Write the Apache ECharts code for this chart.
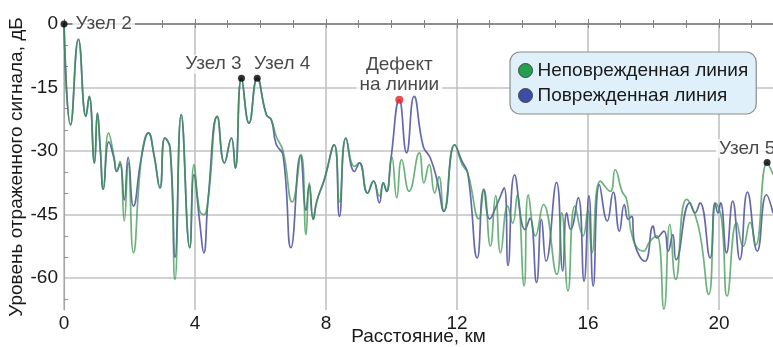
<!DOCTYPE html>
<html><head><meta charset="utf-8">
<script src="https://cdn.jsdelivr.net/npm/echarts@6/dist/echarts.min.js"></script>
<style>html,body{margin:0;padding:0;background:#fff}#c{width:773px;height:347px}</style>
</head><body><div id="c"></div>
<script>
// ---- data (distance km, level dB) ----
const seriesNames = ['Неповрежденная линия', 'Поврежденная линия'];
const undamaged = [
 [0,0],[0.2,-23.8],[0.44,-3.6],[0.67,-21.8],[0.77,-17.1],[0.93,-32.8],[1.02,-21],[1.11,-29.8],[1.2,-39],
 [1.36,-25.7],[1.52,-31],[1.61,-34.8],[1.71,-32.4],[1.84,-46.5],[1.96,-32.8],[2.12,-54],[2.37,-31.2],
 [2.58,-25.7],[2.75,-31],[2.93,-38.7],[3.08,-26.9],[3.24,-29.3],[3.39,-60.3],[3.58,-21.4],[3.84,-52.8],
 [3.97,-33.2],[4.14,-44],[4.27,-45],[4.4,-41.4],[4.68,-21.8],[4.9,-32.8],[5.11,-26.9],[5.23,-34],
 [5.42,-12.8],[5.65,-23.4],[5.9,-12.8],[6.18,-21.4],[6.33,-22.6],[6.48,-26.5],[6.69,-30],[6.97,-42],
 [7.24,-30.8],[7.39,-49.7],[7.49,-37.5],[7.61,-46.1],[7.72,-41.8],[7.95,-36.7],[8.25,-28.5],[8.41,-42],
 [8.61,-26.9],[8.87,-33.6],[9.02,-32.8],[9.27,-39.9],[9.45,-37.1],[9.63,-40.6],[9.75,-37.5],[9.85,-39.5],
 [10.01,-31.4],[10.16,-41],[10.31,-32],[10.54,-39.5],[10.85,-30.4],[10.99,-37.5],[11.15,-33.2],[11.32,-39.9],
 [11.45,-36],[11.6,-44.2],[11.93,-28.5],[12.16,-33.2],[12.33,-35.2],[12.67,-46],[12.82,-39],[13.02,-52.4],
 [13.18,-40.5],[13.33,-54],[13.55,-43],[13.7,-47],[13.84,-40.3],[14.05,-61.8],[14.18,-40.3],[14.4,-50],
 [14.64,-42.6],[15.05,-59.1],[15.2,-44.6],[15.39,-63],[15.6,-43],[15.85,-50],[16.0,-44],[16.12,-54],
 [16.38,-37.1],[16.68,-39.5],[16.83,-34.4],[17.04,-39.5],[17.18,-41.4],[17.38,-50.9],[17.69,-53.6],
 [17.89,-51.3],[18.1,-50],[18.32,-67.3],[18.5,-47.3],[18.68,-60.3],[19.01,-41.4],[19.37,-47.7],[19.69,-63.8],
 [19.91,-42.4],[20.08,-46],[20.25,-64.2],[20.54,-46.8],[20.74,-52.5],[20.95,-46.8],[21.12,-52.2],
 [21.47,-32.7],[21.65,-35.5]
];
const damaged = [
 [0,0],[0.2,-23.8],[0.44,-3.6],[0.67,-21.8],[0.77,-17.1],[0.93,-32.8],[1.02,-21],[1.11,-29.8],[1.2,-39],
 [1.37,-27.8],[1.52,-31.5],[1.61,-34.8],[1.71,-33],[1.84,-41.5],[1.96,-31.5],[2.12,-43],[2.37,-31.2],
 [2.58,-25.7],[2.75,-31],[2.93,-38.7],[3.08,-26.9],[3.24,-29.3],[3.39,-55],[3.58,-21.4],[3.84,-52.8],
 [3.97,-35.6],[4.14,-46.5],[4.27,-54],[4.4,-41.4],[4.68,-21.8],[4.9,-32.8],[5.11,-26.9],[5.23,-34],
 [5.42,-12.8],[5.65,-23.4],[5.9,-12.8],[6.18,-21.4],[6.33,-22.6],[6.48,-28.4],[6.69,-31],[6.93,-52.8],
 [7.22,-31],[7.39,-44],[7.49,-38],[7.61,-46.1],[7.72,-41.8],[7.95,-36.7],[8.25,-28.5],[8.41,-45.4],
 [8.61,-26.9],[8.87,-34.8],[9.02,-32.8],[9.27,-39.9],[9.45,-37.1],[9.63,-42.2],[9.75,-37.5],[9.85,-39.5],
 [9.98,-32],[10.24,-17.9],[10.46,-30.4],[10.69,-17.1],[10.97,-28.9],[11.18,-31.5],[11.4,-37.1],[11.6,-44.2],
 [11.93,-28.5],[12.16,-32.5],[12.33,-35.2],[12.62,-55.2],[12.82,-39],[13.0,-46],[13.2,-43],[13.44,-38.7],
 [13.56,-57],[13.76,-35.6],[14.08,-48.5],[14.23,-45.8],[14.43,-61],[14.58,-46.1],[14.72,-56],[15.04,-37.4],
 [15.23,-58.3],[15.35,-44.6],[15.47,-48.5],[15.7,-41],[15.88,-60.7],[16.03,-40.5],[16.16,-61.9],[16.35,-37.9],
 [16.59,-46.5],[16.77,-39.7],[16.96,-48.9],[17.11,-42.6],[17.23,-46.1],[17.33,-45.4],[17.43,-52],[17.74,-56],
 [17.99,-47.7],[18.1,-50.5],[18.32,-48.9],[18.45,-53.6],[18.59,-49.7],[18.69,-55.6],[19.11,-42.2],[19.27,-44.6],
 [19.42,-42.2],[19.73,-55.2],[19.88,-42.2],[19.97,-44.6],[20.05,-42.2],[20.23,-54],[20.42,-41.8],[20.64,-55.6],
 [20.87,-39.7],[21.17,-53.6],[21.45,-40.3],[21.65,-44.6]
];
const nodeNames = ['Узел 2', 'Узел 3', 'Узел 4', 'Узел 5'];
const nodeX = [0, 5.42, 5.9, 21.47];
const nodeY = [0, -12.8, -12.8, -32.7];
const defectName = 'Дефект\nна линии';
const defectX = 10.24;
const defectY = -17.9;
const xTicks = [0, 4, 8, 12, 16, 20];
const xMinorTicks = [1, 2, 3, 5, 6, 7, 9, 10, 11, 13, 14, 15, 17, 18, 19, 21];
const yTicks = [-60, -45, -30, -15, 0];
const yMinorTicks = [-65, -55, -50, -40, -35, -25, -20, -10, -5];
const xName = 'Расстояние, км';
const yName = 'Уровень отраженного сигнала, дБ';
const X_MIN = 0, X_MAX = 21.65, Y_MIN = -67.5, Y_MAX = 0;

// ---- styling ----
const FONT = 'Liberation Sans, Arial, sans-serif';
const FS = 19;
const GREEN = '#3c9752', BLUE = '#4a4f9e';
const gridGray = '#c2c2c2';

const nodeLabelStyles = [
  {position: 'right', distance: 5},
  {position: 'top', distance: 1, offset: [-28, 0]},
  {position: 'top', distance: 1, offset: [25, 0]},
  {position: 'top', distance: 1, offset: [-20, 0]}
];
const labelBase = {show: true, color: '#1a1a1a', fontSize: FS, fontFamily: FONT,
  backgroundColor: '#fff', padding: [0, 3]};

const nodeData = nodeNames.map((n, i) => ({
  value: [nodeX[i], nodeY[i]], name: n,
  label: Object.assign({}, labelBase, nodeLabelStyles[i], {formatter: n})
}));
const defectData = [{
  value: [defectX, defectY], name: defectName,
  label: Object.assign({}, labelBase, {position: 'top', distance: 1, lineHeight: 20,
    align: 'center', formatter: defectName})
}];

const chart = echarts.init(document.getElementById('c'), null, {renderer: 'canvas'});
chart.setOption({
  animation: false,
  backgroundColor: '#fff',
  textStyle: {fontFamily: FONT},
  grid: {left: 64, right: 0, top: 24, bottom: 37, containLabel: false, outerBoundsMode: 'none'},
  legend: {
    orient: 'vertical', left: 510, top: 52, selectedMode: false,
    icon: 'circle', itemWidth: 14, itemHeight: 14, itemGap: 6,
    padding: [9, 8, 9, 8],
    backgroundColor: '#dff0fa', borderColor: '#8c8c8c', borderWidth: 1.2, borderRadius: 10,
    textStyle: {fontSize: FS, color: '#1a1a1a', fontFamily: FONT},
    data: [
      {name: seriesNames[0], itemStyle: {color: '#22a04e', borderColor: '#444', borderWidth: 1}},
      {name: seriesNames[1], itemStyle: {color: '#3b4ea6', borderColor: '#444', borderWidth: 1}}
    ]
  },
  xAxis: [
    {type: 'value', position: 'bottom', min: X_MIN, max: X_MAX, interval: 4,
     name: xName, nameLocation: 'middle', nameGap: 17, nameMoveOverlap: false,
     nameTextStyle: {fontSize: FS, color: '#1a1a1a', fontFamily: FONT},
     axisLine: {show: true, lineStyle: {color: '#808080', width: 2}},
     axisTick: {show: true, inside: true, length: 5, customValues: xTicks, lineStyle: {color: '#808080'}},
     axisLabel: {show: true, customValues: xTicks, fontSize: FS, color: '#1a1a1a', margin: 4, fontFamily: FONT},
     splitLine: {show: true, lineStyle: {color: gridGray, width: 1.6}}},
    {type: 'value', position: 'bottom', min: X_MIN, max: X_MAX, interval: 4,
     axisLine: {show: false},
     axisTick: {show: true, inside: true, length: 4, customValues: xMinorTicks, lineStyle: {color: '#808080'}},
     axisLabel: {show: false}, splitLine: {show: false}},
    {type: 'value', position: 'top', min: X_MIN, max: X_MAX, interval: 4,
     axisLine: {show: true, lineStyle: {color: '#8c8c8c', width: 2}},
     axisTick: {show: true, inside: true, length: 4, customValues: xMinorTicks.concat(xTicks), lineStyle: {color: '#808080'}},
     axisLabel: {show: false}, splitLine: {show: false}}
  ],
  yAxis: [
    {type: 'value', position: 'left', min: Y_MIN, max: Y_MAX,
     name: yName, nameLocation: 'middle', nameGap: 38, nameMoveOverlap: false,
     nameTextStyle: {fontSize: FS, color: '#1a1a1a', fontFamily: FONT},
     axisLine: {show: true, lineStyle: {color: '#a8a8a8', width: 1.2}},
     axisTick: {show: false, customValues: yTicks},
     axisLabel: {show: true, customValues: yTicks, fontSize: FS, color: '#1a1a1a', margin: 6, fontFamily: FONT},
     splitLine: {show: true, lineStyle: {color: gridGray, width: 1.6}}},
    {type: 'value', position: 'left', min: Y_MIN, max: Y_MAX,
     axisLine: {show: false},
     axisTick: {show: true, inside: true, length: 4, customValues: yMinorTicks, lineStyle: {color: '#909090'}},
     axisLabel: {show: false}, splitLine: {show: false}}
  ],
  series: [
    {name: seriesNames[1], type: 'line', data: damaged, showSymbol: false, symbol: 'none',
     smooth: 0.5, z: 2, color: BLUE,
     lineStyle: {color: BLUE, width: 1.7, opacity: 0.85}},
    {name: seriesNames[0], type: 'line', data: undamaged, showSymbol: false, symbol: 'none',
     smooth: 0.5, z: 3, color: GREEN,
     lineStyle: {color: GREEN, width: 1.7, opacity: 0.75}},
    {name: 'nodes', type: 'scatter', data: nodeData, symbolSize: 7, z: 5,
     itemStyle: {color: '#000'}},
    {name: 'defect', type: 'scatter', data: defectData, symbolSize: 8, z: 5,
     itemStyle: {color: '#e8202a'}}
  ]
});
</script></body></html>
